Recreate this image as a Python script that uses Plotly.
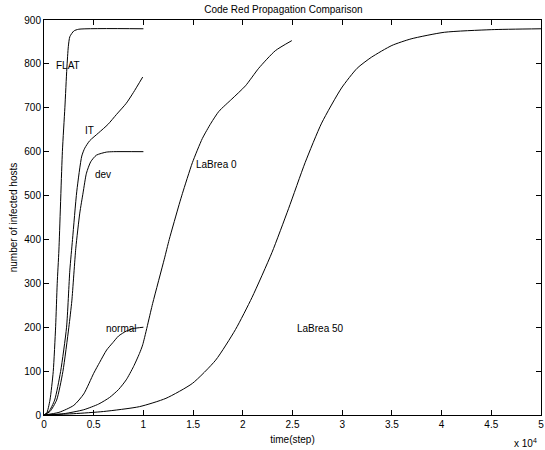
import plotly.graph_objects as go

# Simulated Code Red spread: time step vs. number of infected hosts
flat_t = [0, 270, 600, 930, 1170, 1330, 1500, 1850, 2100, 2300, 2450, 2600, 3000, 3500, 10000]
flat_n = [0, 4, 34, 99, 201, 300, 376, 600, 700, 790, 840, 862, 875, 879, 880]

it_t = [0, 500, 1070, 1670, 2270, 2600, 2870, 3300, 3800, 4100, 4600, 5500, 6430, 7300, 8270, 9000, 9930]
it_n = [0, 8, 34, 99, 200, 330, 400, 510, 590, 608, 625, 643, 662, 685, 710, 735, 770]

dev_t = [0, 600, 1270, 1900, 2500, 2800, 3200, 3600, 3930, 4270, 4700, 5270, 6270, 7000, 10000]
dev_n = [0, 8, 34, 99, 200, 260, 380, 460, 506, 551, 577, 592, 599, 600, 600]

normal_t = [0, 1500, 3000, 4000, 5000, 5600, 6300, 6930, 7500, 8270, 9000, 10000]
normal_n = [0, 6, 22, 48, 95, 120, 148, 165, 180, 191, 197, 200]

labrea0_t = [0, 2000, 4000, 5500, 6600, 7500, 8270, 9000, 9600, 9930, 10930, 12100, 12600,
             13600, 13930, 14930, 15930, 16800, 17600, 18900, 20270, 21600, 23270, 24930]
labrea0_n = [0, 3, 12, 25, 40, 58, 80, 110, 140, 160, 254, 355, 400,
             480, 505, 575, 630, 665, 692, 720, 750, 790, 830, 853]

labrea50_t = [0, 3000, 6000, 9600, 12270, 14930, 17270, 19270, 20930, 22930, 24600,
              26270, 27930, 29930, 31500, 32930, 35000, 36930, 40270, 45000, 50000]
labrea50_n = [0, 3, 8, 19, 38, 72, 125, 195, 268, 370, 470,
              575, 665, 745, 790, 815, 842, 857, 872, 878, 880]

# Curve names and where each name is written (time step, hosts)
label_text = ["FLAT", "IT", "dev", "normal", "LaBrea 0", "LaBrea 50"]
label_t = [2400, 4570, 5930, 7770, 17350, 27800]
label_n = [797, 649, 549, 198, 570, 198]

x_ticks = [0, 5000, 10000, 15000, 20000, 25000, 30000, 35000, 40000, 45000, 50000]
x_tick_text = ["0", "0.5", "1", "1.5", "2", "2.5", "3", "3.5", "4", "4.5", "5"]
y_ticks = [0, 100, 200, 300, 400, 500, 600, 700, 800, 900]

FONT = "Liberation Sans, Arial, Helvetica, sans-serif"

fig = go.Figure()
for t, n in [(flat_t, flat_n), (it_t, it_n), (dev_t, dev_n), (normal_t, normal_n),
             (labrea0_t, labrea0_n), (labrea50_t, labrea50_n)]:
    fig.add_trace(go.Scatter(x=t, y=n, mode="lines",
                             line=dict(color="black", width=1, shape="spline", smoothing=0.6),
                             showlegend=False, hoverinfo="skip"))

for txt, t, n in zip(label_text, label_t, label_n):
    fig.add_annotation(x=t, y=n, text=txt, showarrow=False,
                       font=dict(family=FONT, size=10, color="black"),
                       xanchor="center", yanchor="middle")

# exponent of the x axis scale
fig.add_annotation(xref="paper", yref="paper", x=0.996, y=-0.05, text="x 10<sup>4</sup>",
                   showarrow=False, xanchor="right", yanchor="top",
                   font=dict(family=FONT, size=10, color="black"))

axis_common = dict(showline=True, linecolor="black", linewidth=1, mirror="ticks",
                   ticks="inside", ticklen=5, tickcolor="black", showgrid=False,
                   zeroline=False, ticklabeloverflow="allow",
                   tickfont=dict(family=FONT, size=10, color="black"))

fig.update_layout(
    width=545, height=450,
    margin=dict(l=44, r=1, t=20, b=35),
    paper_bgcolor="white", plot_bgcolor="white",
    title=dict(text="Code Red Propagation Comparison", x=0.52, xanchor="center",
               y=0.98, yanchor="middle", font=dict(family=FONT, size=10, color="black")),
    xaxis=dict(range=[0, 50000], tickvals=x_ticks, ticktext=x_tick_text,
               title=dict(text="time(step)", standoff=6,
                          font=dict(family=FONT, size=10, color="black")),
               **axis_common),
    yaxis=dict(range=[0, 900], tickvals=y_ticks,
               title=dict(text="number of infected hosts", standoff=4,
                          font=dict(family=FONT, size=10, color="black")),
               **axis_common),
)

fig.write_html("out.html")
